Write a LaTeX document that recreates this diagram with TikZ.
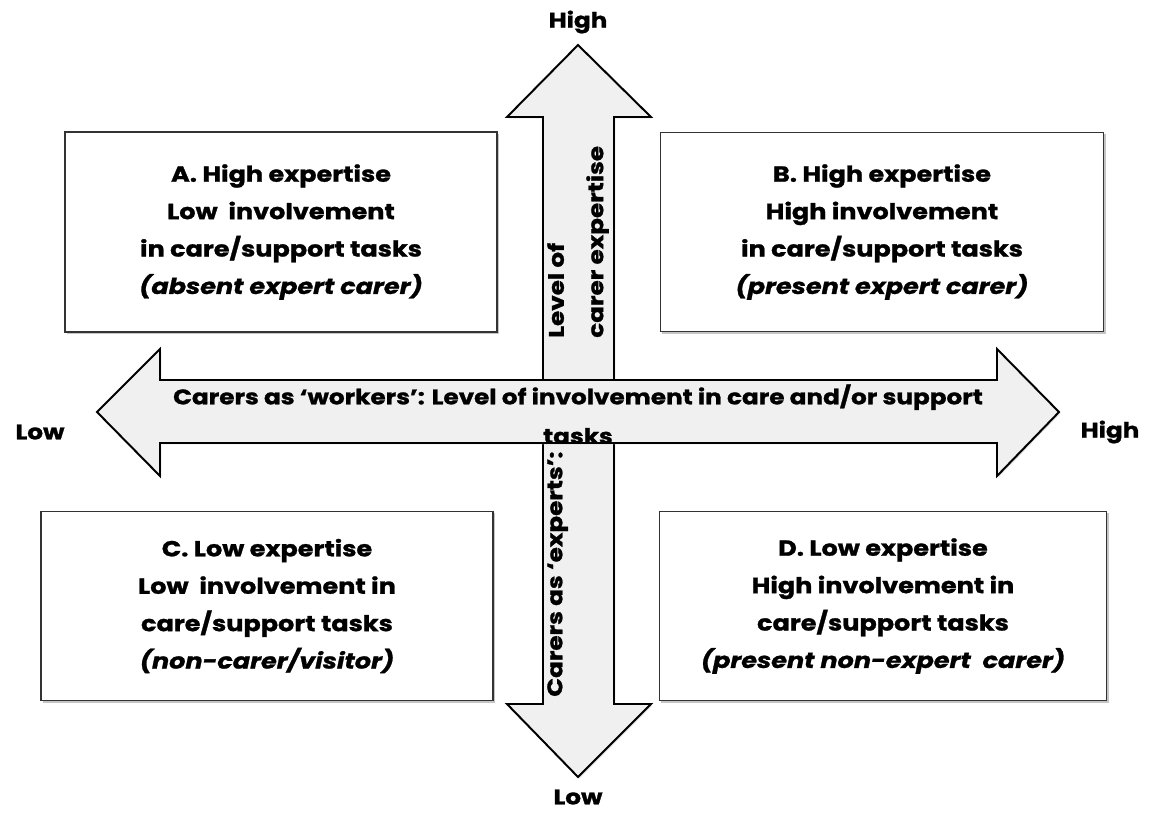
\documentclass[tikz,border=0pt]{standalone}
\usepackage{fontspec}
\setmainfont{Poppins}[FakeStretch=1.17, BoldFeatures={FakeBold=1.2}, BoldItalicFeatures={FakeBold=1.2}]
\usepackage{tikz}
\usetikzlibrary{shadows}
\tikzstyle{quadbox} = [draw=black!80, line width=0.9pt, fill=white, align=center, inner sep=0pt, drop shadow={shadow xshift=1.5pt, shadow yshift=-1.5pt, fill=black!45}, font=\fontsize{15.5}{26.6}\selectfont\bfseries]
\tikzstyle{axisarrow} = [draw=black, line width=1.4pt, fill=black!6, line join=miter, drop shadow={shadow xshift=1pt, shadow yshift=-1pt, fill=black!25}]
\tikzstyle{axislabel} = [font=\fontsize{15}{28}\selectfont\bfseries, inner sep=0pt]

\begin{document}
\begin{tikzpicture}[x=0.025cm, y=-0.025cm]
		\useasboundingbox (0,0) rectangle (1151,818);
	
		% Eje vertical: nivel de experiencia
		\draw[axisarrow] (578,45) -- (651,117) -- (614,117) -- (614,704) -- (651,704) -- (578,777)
			-- (507,704) -- (543,704) -- (543,117) -- (507,117) -- cycle;
		
		% Eje horizontal: nivel de implicacion
		\draw[axisarrow] (97,412) -- (160,349) -- (160,380) -- (997,380) -- (997,349) -- (1059,412)
			-- (997,476) -- (997,443) -- (160,443) -- (160,476) -- cycle;
		
		\node[axislabel, align=center, anchor=north] (hlabel) at (578,384)
			{Carers as `workers': Level of involvement in care and/or support\\tasks};
		\node[axislabel, rotate=90, align=left, anchor=north west] (vlabel) at (547,338)
			{Level of\\carer expertise};
		\node[axislabel, rotate=90, anchor=north west] (vlabellow) at (547,697)
			{Carers as `experts':};
		
		% Extremos de los ejes
		\node[axislabel] (vhigh) at (578,22) {High};
		\node[axislabel] (vlow) at (578,797) {Low};
		\node[axislabel] (hlow) at (40,432) {Low};
		\node[axislabel] (hhigh) at (1110,432) {High};
		
		% Cuadrantes
		\node[quadbox, minimum width=10.8cm, minimum height=5cm] (boxA) at (281,232)
			{A. High expertise\\Low\ \ involvement\\in care/support tasks\\\textit{(absent expert carer)}};
		\node[quadbox, minimum width=11.08cm, minimum height=4.98cm] (boxB) at (882,232)
			{B. High expertise\\High involvement\\in care/support tasks\\\textit{(present expert carer)}};
		\node[quadbox, minimum width=11.3cm, minimum height=4.73cm] (boxC) at (267,606)
			{C. Low expertise\\Low\ \ involvement in\\care/support tasks\\\textit{(non-carer/visitor)}};
		\node[quadbox, minimum width=11.18cm, minimum height=4.73cm] (boxD) at (883,606)
			{D. Low expertise\\High involvement in\\care/support tasks\\\textit{(present non-expert\ \ carer)}};
	\end{tikzpicture}
\end{document}
